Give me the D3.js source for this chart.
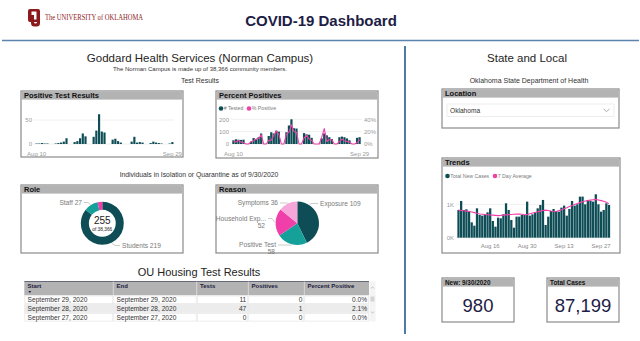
<!DOCTYPE html>
<html>
<head>
<meta charset="utf-8">
<script src="https://cdn.jsdelivr.net/npm/d3@7/dist/d3.min.js"></script>
<style>
  body { margin: 0; background: #fff; }
  svg { display: block; font-family: "Liberation Sans", Arial, sans-serif; }
</style>
</head>
<body>
<svg id="dash" width="640" height="341"></svg>
<script>
// ---------- campus testing (Aug 10 - Sep 29) ----------
const campusStart = new Date(2020, 7, 10);
const campusEnd = new Date(2020, 8, 30);
const positiveCounts = [
  1, 1, 2, 1, 1, 0, 0,
  1, 2, 3, 5, 12, 0, 0,
  4, 6, 12, 22, 16, 0, 0,
  15, 28, 62, 26, 24, 0, 0,
  9, 11, 6, 3, 0, 0, 0,
  5, 15, 3, 4, 3, 0, 0,
  2, 5, 3, 2, 1, 0, 0,
  1, 4
];
const testedCounts = [
  30, 38, 34, 33, 35, 0, 0,
  18, 48, 38, 55, 85, 0, 0,
  65, 95, 85, 108, 100, 0, 0,
  95, 150, 200, 128, 125, 0, 0,
  88, 78, 75, 50, 0, 0, 0,
  45, 85, 70, 55, 40, 0, 0,
  55, 60, 55, 45, 30, 0, 0,
  50, 55
];
const pctPositive = [
  5, 3, 6, 3, 2, 0, 0,
  4, 5, 8, 9, 15, 0, 0,
  6, 6, 14, 21, 16, 0, 0,
  16, 19, 31, 20, 19, 0, 0,
  10, 14, 8, 6, 0, 0, 0,
  11, 25, 4, 7, 7, 0, 0,
  4, 8, 5, 4, 3, 0, 0,
  2, 7
];

// ---------- isolation / quarantine as of 9/30/2020 ----------
const roleNames = ["Students", "Staff", "Other"];
const roleCounts = [219, 27, 9];
const campusMembers = 38366;
const reasonNames = ["Exposure", "Positive Test", "Household Exp...", "Symptoms"];
const reasonCounts = [109, 58, 52, 36];

// ---------- OU housing ----------
const housingStart = ["September 29, 2020", "September 28, 2020", "September 27, 2020"];
const housingEnd = ["September 29, 2020", "September 28, 2020", "September 27, 2020"];
const housingTests = [11, 47, 0];
const housingPositives = [0, 1, 0];
const housingPct = [0.0, 2.1, 0.0];

// ---------- state trends (Aug 4 - Sep 30) ----------
const stateStart = new Date(2020, 7, 4);
const stateEnd = new Date(2020, 9, 1);
const newCases = [
  830, 1100, 830, 850, 800, 460, 360,
  880, 680, 660, 680, 760, 880, 500,
  330, 600, 580, 700, 1030, 830, 530,
  300, 630, 630, 680, 680, 1080, 660,
  700, 760, 880, 980, 1130, 380, 630,
  800, 860, 800, 780, 900, 960, 660,
  860, 1100, 960, 1000, 1230, 1230, 1000,
  1130, 1100, 1080, 1300, 1000, 780, 830,
  1030, 980
];
const sevenDayAvg = [
  825, 815, 805, 795, 786, 768, 750,
  730, 710, 702, 695, 688, 680, 675,
  668, 662, 668, 676, 684, 690, 695,
  700, 705, 710, 700, 685, 690, 715,
  740, 757, 775, 795, 812, 825, 815,
  800, 790, 786, 810, 840, 868, 900,
  935, 965, 995, 1025, 1050, 1075, 1097,
  1110, 1125, 1138, 1146, 1130, 1110, 1090,
  1060, 1020
];
const newCasesLabel = "New: 9/30/2020";
const totalCases = 87199;

// ---------- palette ----------
const dark = "#0e4d56";
const teal = "#16a09a";
const pink = "#f13fa9";
const lightPink = "#f6a6d8";
const navy = "#1d2045";
const headFill = "#b3b3b3";

const svg = d3.select("#dash");
const fmtDay = d3.timeFormat("%b %-d");

// ---------- page header ----------
const logo = svg.append("g").attr("fill", "#8c1a1d");
logo.append("path")
  .attr("d", "M30,9h8a2,2 0 0 1 2,2v9a2,2 0 0 1 -2,2h-8a2,2 0 0 1 -2,-2v-9a2,2 0 0 1 2,-2zM31.5,11.5v8h5v-8z")
  .attr("fill-rule", "evenodd");
logo.append("path")
  .attr("d", "M31,15h3v7a1.5,1.5 0 0 0 3,0v-7h3v8a3.5,3.5 0 0 1 -3.5,3.5h-2a3.5,3.5 0 0 1 -3.5,-3.5z");
svg.append("text")
  .attr("x", 45).attr("y", 20)
  .attr("font-family", "Liberation Serif, serif")
  .attr("font-size", 7.2).attr("fill", "#8c1a1d")
  .attr("textLength", 98).attr("lengthAdjust", "spacingAndGlyphs")
  .text("The UNIVERSITY of OKLAHOMA");

svg.append("text")
  .attr("x", 321).attr("y", 25.5)
  .attr("text-anchor", "middle")
  .attr("font-size", 15).attr("font-weight", "bold")
  .attr("fill", navy)
  .text("COVID-19 Dashboard");

svg.append("line")
  .attr("x1", 2).attr("x2", 639).attr("y1", 40.5).attr("y2", 40.5)
  .attr("stroke", "#5b83ad").attr("stroke-width", 1.6);
svg.append("line")
  .attr("x1", 405).attr("x2", 405).attr("y1", 46).attr("y2", 334)
  .attr("stroke", "#4f7bab").attr("stroke-width", 2);

function caption(x, y, size, txt, color = "#333") {
  return svg.append("text")
    .attr("x", x).attr("y", y)
    .attr("text-anchor", "middle")
    .attr("font-size", size).attr("fill", color)
    .text(txt);
}

caption(200, 61.5, 11.5, "Goddard Health Services (Norman Campus)", "#252423");
caption(200, 71, 6, "The Norman Campus is made up of " + d3.format(",")(campusMembers) + " community members.", "#333");
caption(200, 83, 7, "Test Results", "#333");
caption(199, 176.5, 6.8, "Individuals in Isolation or Quarantine as of 9/30/2020", "#333");
caption(199, 276, 11, "OU Housing Test Results", "#252423");
caption(527, 61.5, 11.5, "State and Local", "#252423");
caption(529, 82.5, 7, "Oklahoma State Department of Health", "#333");

// boxed visual with grey title bar
function panel(x, y, w, h, title, size = 7.5) {
  svg.append("rect")
    .attr("x", x).attr("y", y).attr("width", w).attr("height", h)
    .attr("fill", "#fff").attr("stroke", "#8a8a8a").attr("stroke-width", 1.2);
  svg.append("rect")
    .attr("x", x + 0.6).attr("y", y + 0.6).attr("width", w - 1.2).attr("height", 8)
    .attr("fill", headFill);
  svg.append("text")
    .attr("x", x + 3).attr("y", y + 7.2)
    .attr("font-size", size).attr("font-weight", "bold").attr("fill", "#111")
    .text(title);
}

function styleAxis(g, color = "#9a9a9a", size = 6) {
  g.select(".domain").remove();
  g.selectAll(".tick line").remove();
  g.selectAll("text").attr("fill", color).attr("font-size", size)
    .attr("font-family", "Liberation Sans, Arial, sans-serif");
}

// ---------- Positive Test Results ----------
panel(21, 91, 162, 66, "Positive Test Results");
const campusDays = d3.timeDay.range(campusStart, campusEnd);
const xPos = d3.scaleBand().domain(campusDays).range([35, 174]).padding(0.2);
const yPos = d3.scaleLinear().domain([0, 50]).range([144, 120]);

svg.append("g").selectAll("line").data([0, 50]).join("line")
  .attr("x1", 34).attr("x2", 174)
  .attr("y1", d => yPos(d)).attr("y2", d => yPos(d))
  .attr("stroke", "#ececec").attr("stroke-width", 0.8);
svg.append("g").attr("transform", "translate(33,0)")
  .call(d3.axisLeft(yPos).tickValues([0, 50]).tickSize(0).tickPadding(1))
  .call(g => styleAxis(g));
svg.append("g").selectAll("rect").data(campusDays).join("rect")
  .attr("x", d => xPos(d))
  .attr("width", xPos.bandwidth())
  .attr("y", (d, i) => yPos(positiveCounts[i]))
  .attr("height", (d, i) => yPos(0) - yPos(positiveCounts[i]))
  .attr("fill", dark);
svg.append("g").attr("transform", "translate(0,146)")
  .call(d3.axisBottom(xPos).tickValues([campusDays[0], campusDays[campusDays.length - 1]])
    .tickFormat(fmtDay).tickSize(0).tickPadding(6))
  .call(g => styleAxis(g));

// ---------- Percent Positives ----------
panel(216, 91, 162, 67, "Percent Positives");
const xPct = d3.scaleBand().domain(campusDays).range([232, 361]).padding(0.12);
const yTest = d3.scaleLinear().domain([0, 200]).range([144, 119.3]);
const yRate = d3.scaleLinear().domain([0, 40]).range([144, 119.3]);

svg.append("g").selectAll("line").data([0, 100, 200]).join("line")
  .attr("x1", 231).attr("x2", 362)
  .attr("y1", d => yTest(d)).attr("y2", d => yTest(d))
  .attr("stroke", "#ececec").attr("stroke-width", 0.8);
svg.append("g").attr("transform", "translate(230,0)")
  .call(d3.axisLeft(yTest).tickValues([0, 100, 200]).tickSize(0).tickPadding(1))
  .call(g => styleAxis(g));
svg.append("g").attr("transform", "translate(363,0)")
  .call(d3.axisRight(yRate).tickValues([0, 20, 40]).tickFormat(d => d + "%").tickSize(0).tickPadding(1))
  .call(g => styleAxis(g));
svg.append("g").selectAll("rect").data(campusDays).join("rect")
  .attr("x", d => xPct(d))
  .attr("width", xPct.bandwidth())
  .attr("y", (d, i) => yTest(testedCounts[i]))
  .attr("height", (d, i) => yTest(0) - yTest(testedCounts[i]))
  .attr("fill", dark);
svg.append("path")
  .datum(campusDays)
  .attr("fill", "none").attr("stroke", pink).attr("stroke-width", 1.1)
  .attr("stroke-linejoin", "round")
  .attr("d", d3.line()
    .x(d => xPct(d) + xPct.bandwidth() / 2)
    .y((d, i) => yRate(pctPositive[i])));
svg.append("g").attr("transform", "translate(0,146)")
  .call(d3.axisBottom(xPct).tickValues([campusDays[0], campusDays[campusDays.length - 1]])
    .tickFormat(fmtDay).tickSize(0).tickPadding(6))
  .call(g => styleAxis(g));

function legend(x, y, items) {
  let cx = x;
  items.forEach(([label, color, w]) => {
    svg.append("circle").attr("cx", cx).attr("cy", y).attr("r", 2.3).attr("fill", color);
    svg.append("text").attr("x", cx + 2.8).attr("y", y + 1.9)
      .attr("font-size", 5.2).attr("fill", "#7a7a7a").text(label);
    cx += w;
  });
}
legend(221, 108.5, [["# Tested", dark, 28], ["% Positive", pink, 40]]);

// ---------- Role donut ----------
panel(21, 185, 162, 68, "Role");
const roleCx = 102.3, roleCy = 223.3;
const rolePie = d3.pie().sort(null)(roleCounts);
const roleArc = d3.arc().innerRadius(13.5).outerRadius(21.5);
const roleColors = [dark, teal, pink];
svg.append("g").attr("transform", `translate(${roleCx},${roleCy})`)
  .selectAll("path").data(rolePie).join("path")
  .attr("d", roleArc)
  .attr("fill", (d, i) => roleColors[i]);
svg.append("text").attr("x", roleCx).attr("y", 223.5).attr("text-anchor", "middle")
  .attr("font-size", 10).attr("fill", "#222").text(d3.sum(roleCounts));
svg.append("text").attr("x", roleCx).attr("y", 230.5).attr("text-anchor", "middle")
  .attr("font-size", 4.8).attr("fill", "#222").text("of " + d3.format(",")(campusMembers));

function sliceLabel(cx, cy, r, angleDeg, lineTo, lines, anchor) {
  const a = angleDeg * Math.PI / 180;
  const px = cx + r * Math.sin(a), py = cy - r * Math.cos(a);
  svg.append("polyline")
    .attr("points", `${px},${py} ${lineTo[0]},${lineTo[1]} ${lineTo[2]},${lineTo[1]}`)
    .attr("fill", "none").attr("stroke", "#aaa").attr("stroke-width", 0.6);
  lines.forEach((t, k) => {
    svg.append("text")
      .attr("x", k > 0 ? lineTo[2] - 3 : lineTo[2] + (anchor === "start" ? 2 : -2))
      .attr("y", lineTo[1] + 2 + k * 7.3)
      .attr("text-anchor", anchor)
      .attr("font-size", 6.6).attr("fill", "#7a7a7a").text(t);
  });
}
const angleOf = (pie, i) => (pie[i].startAngle + pie[i].endAngle) / 2 * 180 / Math.PI;
sliceLabel(roleCx, roleCy, 22, angleOf(rolePie, 1), [88, 202.5, 84], [roleNames[1] + " " + roleCounts[1]], "end");
sliceLabel(roleCx, roleCy, 22, angleOf(rolePie, 0), [115, 245.5, 120], [roleNames[0] + " " + roleCounts[0]], "start");

// ---------- Reason pie ----------
panel(216, 185, 162, 68, "Reason");
const resCx = 297.3, resCy = 223.3;
const reasonPie = d3.pie().sort(null)(reasonCounts);
const reasonArc = d3.arc().innerRadius(0).outerRadius(21.7);
const reasonColors = [dark, teal, pink, lightPink];
svg.append("g").attr("transform", `translate(${resCx},${resCy})`)
  .selectAll("path").data(reasonPie).join("path")
  .attr("d", reasonArc)
  .attr("fill", (d, i) => reasonColors[i]);
sliceLabel(resCx, resCy, 22.5, 32, [312, 203.5, 318], [reasonNames[0] + " " + reasonCounts[0]], "start");
sliceLabel(resCx, resCy, 22.5, angleOf(reasonPie, 3), [284, 203, 280], [reasonNames[3] + " " + reasonCounts[3]], "end");
sliceLabel(resCx, resCy, 22.5, angleOf(reasonPie, 2), [272, 218.5, 268], [reasonNames[2], String(reasonCounts[2])], "end");
sliceLabel(resCx, resCy, 22.5, angleOf(reasonPie, 1), [282, 245, 278], [reasonNames[1], String(reasonCounts[1])], "end");

// ---------- OU housing table ----------
const colEdges = [24.3, 113.3, 196.7, 248.3, 304.3, 369];
const headers = ["Start", "End", "Tests", "Positives", "Percent Positive"];
const headTop = 281.5, headH = 14, rowH = 8.7;
const table = svg.append("g");
table.append("rect").attr("x", colEdges[0]).attr("y", headTop)
  .attr("width", colEdges[5] - colEdges[0]).attr("height", headH).attr("fill", headFill);
table.append("line").attr("x1", colEdges[0]).attr("x2", colEdges[5])
  .attr("y1", headTop).attr("y2", headTop).attr("stroke", "#4a4d66").attr("stroke-width", 0.8);
table.selectAll(".sep").data(colEdges.slice(1, 5)).join("line")
  .attr("x1", d => d).attr("x2", d => d).attr("y1", headTop).attr("y2", headTop + headH)
  .attr("stroke", "#e8e8e8").attr("stroke-width", 0.7);
table.selectAll(".hd").data(headers).join("text")
  .attr("x", (d, i) => colEdges[i] + 3.3).attr("y", headTop + 6.5)
  .attr("font-size", 6).attr("font-weight", "bold").attr("fill", "#1d2040")
  .text(d => d);
table.append("path").attr("d", `M${colEdges[0] + 4},${headTop + 9.5}h3l-1.5,2z`).attr("fill", "#1d2040");

const rows = housingStart.map((s, i) => [s, housingEnd[i], housingTests[i], housingPositives[i], housingPct[i].toFixed(1) + "%"]);
rows.forEach((r, i) => {
  const y0 = headTop + headH + i * rowH;
  table.append("rect").attr("x", colEdges[0]).attr("y", y0)
    .attr("width", colEdges[5] - colEdges[0]).attr("height", rowH)
    .attr("fill", i % 2 === 1 ? "#ececec" : "#fff");
  colEdges.slice(0, 5).forEach((cx, j) => {
    table.append("rect").attr("x", cx + 0.5).attr("y", y0 + 0.5)
      .attr("width", colEdges[j + 1] - cx - 1).attr("height", rowH - 1)
      .attr("fill", "none").attr("stroke", i % 2 === 1 ? "#ececec" : "#e2e2e2").attr("stroke-width", 0.6);
    const right = j >= 2;
    table.append("text")
      .attr("x", right ? colEdges[j + 1] - 2 : cx + 3.3)
      .attr("y", y0 + 6.6)
      .attr("text-anchor", right ? "end" : "start")
      .attr("font-size", 6.6).attr("fill", "#333")
      .text(r[j]);
  });
});
// scroll bar
table.append("rect").attr("x", 369.5).attr("y", headTop).attr("width", 6).attr("height", headH + 3 * rowH).attr("fill", "#f4f4f4");
table.append("rect").attr("x", 370.5).attr("y", headTop + headH + 1).attr("width", 4).attr("height", 5).attr("fill", "#d4d4d4");
table.append("path").attr("d", `M371,${headTop + 7}l1.5,-1.8l1.5,1.8`).attr("fill", "none").attr("stroke", "#aaa").attr("stroke-width", 0.6);
table.append("path").attr("d", `M371,${headTop + 30}l1.5,1.8l1.5,-1.8`).attr("fill", "none").attr("stroke", "#aaa").attr("stroke-width", 0.6);

// ---------- Location slicer ----------
panel(442, 89, 177, 39, "Location");
svg.append("rect").attr("x", 447).attr("y", 104).attr("width", 167).attr("height", 12.5)
  .attr("fill", "#fff").attr("stroke", "#e6e6e6").attr("stroke-width", 0.7);
svg.append("text").attr("x", 450).attr("y", 112.6).attr("font-size", 6.6).attr("fill", "#333").text("Oklahoma");
svg.append("path").attr("d", "M603.5,109l3,2.6l3,-2.6").attr("fill", "none").attr("stroke", "#888").attr("stroke-width", 0.7);

// ---------- Trends ----------
panel(442, 158, 178, 95, "Trends");
const stateDays = d3.timeDay.range(stateStart, stateEnd);
const xTr = d3.scaleBand().domain(stateDays).range([457, 610.5]).padding(0.14);
const yTr = d3.scaleLinear().domain([0, 1000]).range([237.7, 204.3]);
svg.append("g").selectAll("line").data([0, 1000]).join("line")
  .attr("x1", 456).attr("x2", 611)
  .attr("y1", d => yTr(d)).attr("y2", d => yTr(d))
  .attr("stroke", "#ececec").attr("stroke-width", 0.8);
svg.append("g").attr("transform", "translate(455,0)")
  .call(d3.axisLeft(yTr).tickValues([0, 1000]).tickFormat(d => (d / 1000) + "K").tickSize(0).tickPadding(1))
  .call(g => styleAxis(g));
svg.append("g").selectAll("rect").data(stateDays).join("rect")
  .attr("x", d => xTr(d))
  .attr("width", xTr.bandwidth())
  .attr("y", (d, i) => yTr(newCases[i]))
  .attr("height", (d, i) => yTr(0) - yTr(newCases[i]))
  .attr("fill", dark);
svg.append("path")
  .datum(stateDays)
  .attr("fill", "none").attr("stroke", pink).attr("stroke-width", 1.1)
  .attr("d", d3.line()
    .x(d => xTr(d) + xTr.bandwidth() / 2)
    .y((d, i) => yTr(sevenDayAvg[i])));
const trTicks = stateDays.filter(d => ["Aug 16", "Aug 30", "Sep 13", "Sep 27"].includes(fmtDay(d)));
svg.append("g").attr("transform", "translate(0,240)")
  .call(d3.axisBottom(xTr).tickValues(trTicks).tickFormat(fmtDay).tickSize(0).tickPadding(4))
  .call(g => styleAxis(g, "#8a8a8a"));
legend(447.5, 176, [["Total New Cases", dark, 47.5], ["7 Day Average", pink, 50]]);

// ---------- cards ----------
function card(x, title, value) {
  panel(x, 278, 72, 44, title, 6.4);
  svg.append("text").attr("x", x + 36).attr("y", 312.3).attr("text-anchor", "middle")
    .attr("font-size", 18.5).attr("fill", navy).text(value);
}
card(442, newCasesLabel, d3.format(",")(newCases[newCases.length - 1]));
card(547, "Total Cases", d3.format(",")(totalCases));
</script>
</body>
</html>
